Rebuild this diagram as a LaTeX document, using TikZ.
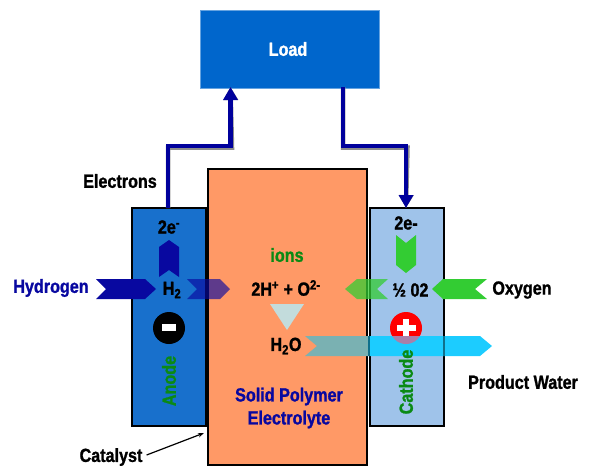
\documentclass[tikz,border=0pt]{standalone}
\usepackage{fontspec}
\setmainfont{Liberation Sans}[FakeStretch=0.85,BoldFeatures={FakeBold=1.2}]
\usetikzlibrary{arrows.meta}
\definecolor{loadblue}{HTML}{0066CC}
\definecolor{anodeblue}{HTML}{1870CC}
\definecolor{cathodeblue}{HTML}{9FC3EA}
\definecolor{polymer}{HTML}{FF9966}
\definecolor{wireblue}{HTML}{00009C}
\definecolor{hydrogenblue}{HTML}{0808A0}
\definecolor{oxygengreen}{HTML}{33CC33}
\definecolor{labelgreen}{HTML}{0A8A14}
\definecolor{waterblue}{HTML}{1CCCFF}
\definecolor{waterteal}{HTML}{7AB1B2}
\tikzset{
    lbl/.style={font=\bfseries\fontsize{19}{23}\selectfont,inner sep=0pt,align=center},
    plate/.style={draw=black,line width=2pt,inner sep=0pt,outer sep=0pt},
    wire/.style={line width=4.5pt,draw=wireblue,-{Triangle[length=13pt,width=14pt]}},
    wireshadow/.style={line width=4.5pt,draw=black!45,-{Triangle[length=13pt,width=14pt]},xshift=1.5pt,yshift=-1.5pt},
}
\begin{document}
\begin{tikzpicture}[x=1pt,y=-1pt]
        \useasboundingbox (0,0) rectangle (589,467);
        %% Plates
        \node[plate,fill=polymer,minimum width=159pt,minimum height=296pt] (electrolyte) at (287.5,317) {};
        \node[plate,fill=anodeblue,minimum width=74pt,minimum height=218pt] (anode) at (169,317) {};
        \node[plate,fill=cathodeblue,minimum width=74pt,minimum height=218pt] (cathode) at (407,317) {};
        \node[draw=loadblue!60!white,line width=1pt,fill=loadblue,minimum width=179pt,minimum height=78pt,inner sep=0pt] (load) at (289.5,49) {};
        %% Wires
        \coordinate (anodeout) at (168,208);
        \coordinate (loadin) at (230.5,87);
        \coordinate (loadout) at (343,87);
        \coordinate (cathodein) at (406,208);
        \draw[wireshadow] (anodeout) |- (230.5,146) -- (loadin);
        \draw[wireshadow] (loadout) |- (406,146) -- (cathodein);
        \draw[wire] (anodeout) |- (230.5,146) -- (loadin);
        \draw[wire] (loadout) |- (406,146) -- (cathodein);
        %% Hydrogen side
        \fill[hydrogenblue] (96,279) -- (145,279) -- (156,289) -- (145,299) -- (96,299) -- (106,289) -- cycle;
        \fill[hydrogenblue,opacity=0.65] (187,279) -- (220,279) -- (230,289) -- (220,299) -- (187,299) -- (197,289) -- cycle;
        \fill[hydrogenblue] (159,247) -- (169,240) -- (179,247) -- (179,277) -- (169,270) -- (159,277) -- cycle;
        %% Oxygen side
        \fill[oxygengreen] (487,279) -- (443,279) -- (432,289) -- (443,299) -- (487,299) -- (475,289) -- cycle;
        \fill[oxygengreen,opacity=0.75] (388,279) -- (357,279) -- (345,289) -- (357,299) -- (388,299) -- (377,289) -- cycle;
        \fill[oxygengreen] (396,235) -- (406,243) -- (416,235) -- (416,265) -- (406,273) -- (396,265) -- cycle;
        %% Ions
        \fill[waterteal!45!white] (270,304) -- (304,304) -- (287,330) -- cycle;
        %% Signs
        \node[circle,fill=black,minimum size=32pt,inner sep=0pt] (minus) at (169,328) {};
        \fill[white] (162,323.5) rectangle (176,331);
        \node[circle,fill=red,minimum size=32pt,inner sep=0pt] (plus) at (406,328) {};
        \fill[white] (397,325) rectangle (416,331);
        \fill[white] (403,319) rectangle (409,338);
        %% Water
        \begin{scope}
            \clip (300,330) rectangle (368,360);
            \fill[waterteal] (305,336) -- (480,336) -- (492,346) -- (480,356) -- (305,356) -- (317,346) -- cycle;
        \end{scope}
        \begin{scope}
            \clip (368,330) rectangle (500,360);
            \fill[waterblue] (305,336) -- (480,336) -- (492,346) -- (480,356) -- (305,356) -- (317,346) -- cycle;
            \clip (390,336) rectangle (422,356);
            \fill[black!35!violet!50!white] (406,328) circle (16);
        \end{scope}
        \draw[waterblue!55!black,line width=2pt] (369,336) -- (369,356);
        \draw[waterblue!55!black,line width=2pt] (444,336) -- (444,356);
        %% Labels
        \node[lbl,white] (loadlabel) at (288,49) {Load};
        \node[lbl] (electrons) at (120,181) {Electrons};
        \node[lbl] (anodecharge) at (169,227) {2e\textsuperscript{-}};
        \node[lbl,hydrogenblue] (hydrogen) at (51,288) {Hydrogen};
        \node[lbl] (htwo) at (172,290) {H\textsubscript{2}};
        \node[lbl,labelgreen] (ions) at (287,255) {ions};
        \node[lbl] (reaction) at (286,288) {2H\textsuperscript{+} + O\textsuperscript{2-}};
        \node[lbl] (cathodecharge) at (406,223) {2e-};
        \node[lbl] (halfoxygen) at (410.5,290) {½ 02};
        \node[lbl] (oxygen) at (522,290) {Oxygen};
        \node[lbl] (water) at (286,346) {H\textsubscript{2}O};
        \node[lbl,hydrogenblue] (polymerlabel) at (289,408) {Solid Polymer\\Electrolyte};
        \node[lbl,labelgreen,rotate=90] (anodelabel) at (169,381) {Anode};
        \node[lbl,labelgreen,rotate=90] (cathodelabel) at (406,382) {Cathode};
        \node[lbl] (productwater) at (523,382) {Product Water};
        \node[lbl] (catalyst) at (111,457) {Catalyst};
        %% Catalyst pointer
        \coordinate (catalysttip) at (204,433);
        \draw[line width=1.2pt,-{Stealth[length=6pt]}] (catalyst.east) ++(4,-2) -- (catalysttip);
    \end{tikzpicture}
\end{document}
